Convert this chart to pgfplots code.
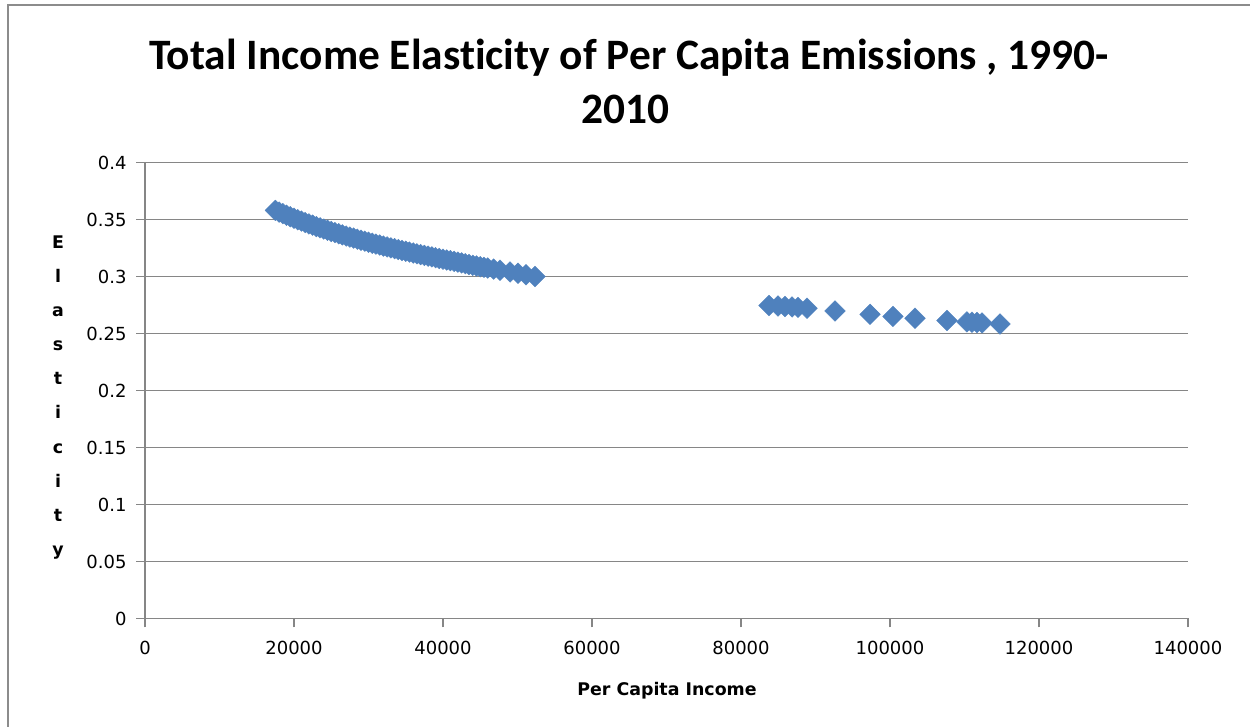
\documentclass[border=0pt]{standalone}
\usepackage{pgfplots}
\pgfplotsset{compat=1.18}
\usepackage{fontspec}
\setmainfont{DejaVu Sans}
\newfontfamily\titlefont[Ligatures={NoCommon,NoRare,NoContextual}]{Carlito}

\definecolor{markblue}{RGB}{79,129,189}
\definecolor{gridgray}{RGB}{134,134,134}
\definecolor{framegray}{RGB}{140,140,140}

% elasticity by per capita income (low-income group)
\pgfplotstableread{
x y
17500 0.3580
18000 0.3565
18500 0.3551
19000 0.3537
19500 0.3524
20000 0.3511
20500 0.3498
21000 0.3486
21500 0.3473
22000 0.3461
22500 0.3450
23000 0.3438
23500 0.3427
24000 0.3416
24500 0.3406
25000 0.3395
25500 0.3385
26000 0.3375
26500 0.3365
27000 0.3355
27500 0.3346
28000 0.3337
28500 0.3327
29000 0.3318
29500 0.3310
30000 0.3301
30500 0.3292
31000 0.3284
31500 0.3276
32000 0.3267
32500 0.3259
33000 0.3251
33500 0.3244
34000 0.3236
34500 0.3228
35000 0.3221
35500 0.3214
36000 0.3206
36500 0.3199
37000 0.3192
37500 0.3185
38000 0.3178
38500 0.3172
39000 0.3165
39500 0.3158
40000 0.3152
40500 0.3145
41000 0.3139
41500 0.3133
42000 0.3126
42500 0.3119
43000 0.3112
43500 0.3105
44000 0.3098
44500 0.3092
45000 0.3086
45500 0.3080
46000 0.3074
46800 0.3065
47650 0.3055
49000 0.3040
50070 0.3028
51140 0.3015
52350 0.3000
}\lowgroup

% high-income group
\pgfplotstableread{
x y
83760 0.2745
84970 0.2741
85910 0.2737
86850 0.2733
87650 0.2729
88860 0.2722
92620 0.2698
97320 0.2668
100400 0.2650
103360 0.2634
107650 0.2614
110330 0.2602
111000 0.2599
111680 0.2596
112350 0.2593
114770 0.2583
}\highgroup

\begin{document}
\begin{tikzpicture}[x=1pt,y=1pt]
\useasboundingbox (0,0) rectangle (1250,727);
% chart frame
\draw[framegray, line width=1.2pt] (8,-5) -- (8,722) -- (1255,722);

\begin{axis}[
  at={(145pt,108.5pt)}, anchor=south west,
  scale only axis, width=1043pt, height=456pt,
  xmin=0, xmax=140000, ymin=0, ymax=0.4,
  scaled ticks=false,
  axis x line*=bottom, axis y line*=left,
  axis line style={gridgray, line width=1.3pt, -},
  tick align=outside, major tick length=9pt,
  tick style={gridgray, line width=1.3pt},
  xtick={0,20000,40000,60000,80000,100000,120000,140000},
  xticklabels={0,20000,40000,60000,80000,100000,120000,140000},
  ytick={0,0.05,0.1,0.15,0.2,0.25,0.3,0.35,0.4},
  yticklabels={0,0.05,0.1,0.15,0.2,0.25,0.3,0.35,0.4},
  ymajorgrids,
  major grid style={gridgray, line width=1.3pt},
  ticklabel style={font=\fontsize{18}{20}\selectfont, text=black},
  yticklabel style={xshift=-6pt},
  xticklabel style={yshift=-10pt},
  clip=false,
]
\addplot[only marks, mark=square*, mark size=7.3pt,
  mark options={rotate=45, fill=markblue, draw=markblue}]
  table[x=x, y=y] {\lowgroup};
\addplot[only marks, mark=square*, mark size=7.3pt,
  mark options={rotate=45, fill=markblue, draw=markblue}]
  table[x=x, y=y] {\highgroup};
\end{axis}

% title
\node[anchor=base, font=\titlefont\bfseries\fontsize{43.4}{53}\selectfont]
  at (629,657) {Total Income Elasticity of Per Capita Emissions , 1990-};
\node[anchor=base, font=\titlefont\bfseries\fontsize{43.4}{53}\selectfont]
  at (625,603.4) {2010};

% axis titles
\node[anchor=base, font=\bfseries\fontsize{17.4}{20}\selectfont]
  at (667,31) {Per Capita Income};
\foreach \ch [count=\k from 0] in {E,l,a,s,t,i,c,i,t,y}{
  \node[anchor=base, inner sep=0pt, font=\bfseries\fontsize{17.4}{20}\selectfont]
    at (58,478.5-34.1*\k) {\ch};
}
\end{tikzpicture}
\end{document}
